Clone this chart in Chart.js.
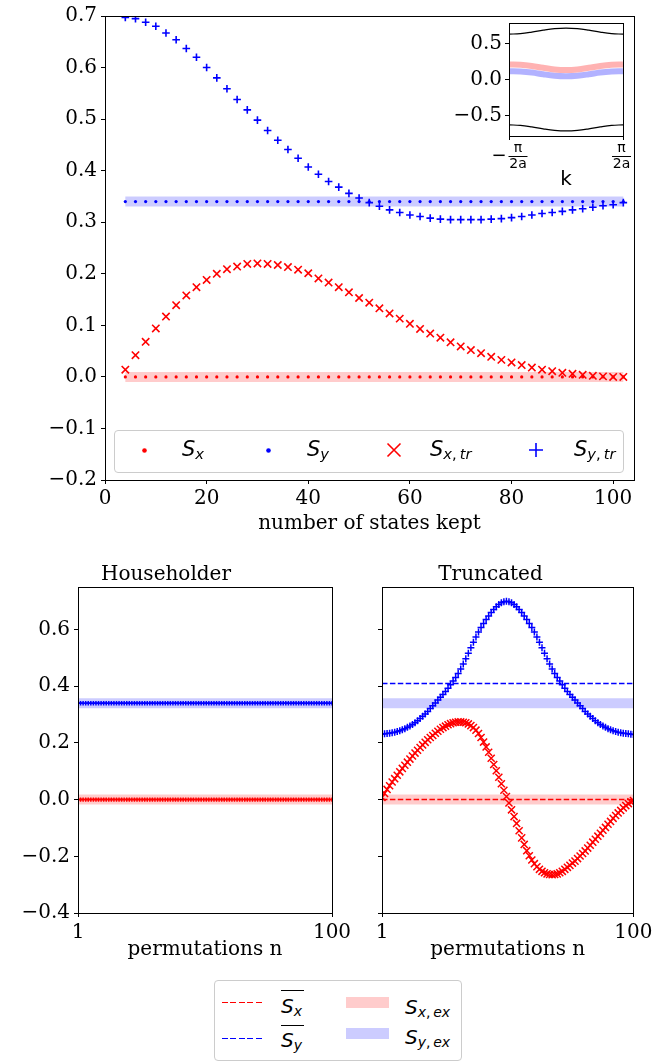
<!DOCTYPE html>
<html>
<head>
<meta charset="utf-8">
<script src="https://cdn.jsdelivr.net/npm/chart.js@4.4.1/dist/chart.umd.min.js"></script>
<style>
  body { margin: 0; width: 656px; height: 1064px; position: relative; background: #fff; overflow: hidden; }
  canvas { position: absolute; }
  .legend { position: absolute; background: rgba(255,255,255,0.8); border: 1px solid #ccc; border-radius: 4px; box-sizing: border-box; }
  .legend .txt { position: absolute; white-space: nowrap; font-family: 'DejaVu Sans', sans-serif; font-style: italic; line-height: 1; color: #000; }
  .legend sub { font-size: 0.7em; line-height: 0; vertical-align: -0.22em; }
  .legend .up { font-style: normal; }
  .legend svg, .legend .swatch, .legend .dash, .legend .bar { position: absolute; }
  .legend .bar { height: 1.3px; background: #000; }
</style>
</head>
<body>
<canvas id="mainChart" width="656" height="545" style="left:0;top:0"></canvas>
<canvas id="insetChart" width="210" height="200" style="left:440px;top:0"></canvas>
<canvas id="hhChart" width="360" height="424" style="left:0;top:540px"></canvas>
<canvas id="trChart" width="311" height="424" style="left:345px;top:540px"></canvas>

<div class="legend" style="left:114px;top:430px;width:510px;height:43px">
  <svg style="left:26px;top:16px" width="7" height="7"><circle cx="3.5" cy="3.5" r="2.3" fill="#ff0000"/></svg>
  <span class="txt" style="left:67px;top:8px;font-size:21px">S<sub>x</sub></span>
  <svg style="left:150px;top:16px" width="7" height="7"><circle cx="3.5" cy="3.5" r="2.3" fill="#0000ff"/></svg>
  <span class="txt" style="left:192px;top:8px;font-size:21px">S<sub>y</sub></span>
  <svg style="left:271px;top:11px" width="16" height="16"><path d="M1.5 1.5L14.5 14.5M14.5 1.5L1.5 14.5" stroke="#ff0000" stroke-width="1.6" fill="none"/></svg>
  <span class="txt" style="left:315px;top:8px;font-size:21px">S<sub>x<span class="up">,</span>&thinsp;tr</sub></span>
  <svg style="left:413px;top:11px" width="16" height="16"><path d="M8 1V15M1 8H15" stroke="#0000ff" stroke-width="1.6" fill="none"/></svg>
  <span class="txt" style="left:459px;top:8px;font-size:21px">S<sub>y<span class="up">,</span>&thinsp;tr</sub></span>
</div>

<div class="legend" style="left:214px;top:980px;width:248px;height:81px">
  <div class="dash" style="left:7px;top:20.5px;width:42px;height:1.5px;background:repeating-linear-gradient(to right,#ff0000 0 6px,transparent 6px 8.4px)"></div>
  <div class="bar" style="left:66px;top:9px;width:23px"></div>
  <span class="txt" style="left:66px;top:15px;font-size:20px">S<sub>x</sub></span>
  <div class="dash" style="left:7px;top:56.5px;width:42px;height:1.5px;background:repeating-linear-gradient(to right,#0000ff 0 6px,transparent 6px 8.4px)"></div>
  <div class="bar" style="left:66px;top:44px;width:23px"></div>
  <span class="txt" style="left:66px;top:49px;font-size:20px">S<sub>y</sub></span>
  <div class="swatch" style="left:131px;top:16px;width:43px;height:11px;background:rgba(255,0,0,0.2)"></div>
  <span class="txt" style="left:190px;top:15.5px;font-size:20px">S<sub>x<span class="up">,</span>&thinsp;ex</sub></span>
  <div class="swatch" style="left:131px;top:47px;width:43px;height:11px;background:rgba(0,0,255,0.2)"></div>
  <span class="txt" style="left:190px;top:46px;font-size:20px">S<sub>y<span class="up">,</span>&thinsp;ex</sub></span>
</div>

<script>
const SERIF = "'DejaVu Serif', serif";
const SANS = "'DejaVu Sans', sans-serif";

// exact spin expectation values
const sxExact = 0.0;
const syExact = 0.34;

// number of states kept (top panel)
const nKept = [4, 6, 8, 10, 12, 14, 16, 18, 20, 22, 24, 26, 28, 30, 32, 34, 36, 38, 40, 42,
  44, 46, 48, 50, 52, 54, 56, 58, 60, 62, 64, 66, 68, 70, 72, 74, 76, 78, 80, 82,
  84, 86, 88, 90, 92, 94, 96, 98, 100, 102];
const sxTrunc = [0.014, 0.042, 0.068, 0.094, 0.117, 0.139, 0.158, 0.174, 0.188, 0.200,
  0.209, 0.214, 0.219, 0.220, 0.219, 0.217, 0.213, 0.208, 0.201, 0.191,
  0.183, 0.174, 0.164, 0.153, 0.144, 0.133, 0.123, 0.113, 0.103, 0.093,
  0.084, 0.076, 0.067, 0.059, 0.052, 0.046, 0.039, 0.033, 0.028, 0.023,
  0.018, 0.014, 0.011, 0.008, 0.006, 0.004, 0.002, 0.001, 0.000, 0.000];
const syTrunc = [0.697, 0.695, 0.688, 0.680, 0.667, 0.654, 0.637, 0.620, 0.600, 0.580,
  0.559, 0.538, 0.518, 0.498, 0.478, 0.459, 0.441, 0.424, 0.407, 0.393,
  0.379, 0.368, 0.356, 0.347, 0.338, 0.331, 0.324, 0.319, 0.314, 0.311,
  0.308, 0.306, 0.305, 0.305, 0.305, 0.305, 0.306, 0.307, 0.309, 0.311,
  0.314, 0.317, 0.319, 0.321, 0.324, 0.326, 0.329, 0.332, 0.334, 0.338];
const topXTicks = [0, 20, 40, 60, 80, 100];
const topYTicks = [-0.2, -0.1, 0, 0.1, 0.2, 0.3, 0.4, 0.5, 0.6, 0.7];

// band structure inset, k in units of pi/2a
const kInset = [-1, -0.8, -0.6, -0.4, -0.2, 0, 0.2, 0.4, 0.6, 0.8, 1];
const bandUpper = [0.630, 0.638, 0.659, 0.686, 0.707, 0.715, 0.707, 0.686, 0.659, 0.638, 0.630];
const bandLower = [-0.630, -0.638, -0.659, -0.686, -0.707, -0.715, -0.707, -0.686, -0.659, -0.638, -0.630];
const bandSx = [0.210, 0.205, 0.188, 0.162, 0.140, 0.132, 0.140, 0.162, 0.188, 0.205, 0.210];
const bandSy = [0.115, 0.110, 0.096, 0.072, 0.053, 0.046, 0.053, 0.072, 0.096, 0.110, 0.115];
const kTicks = [-1, 1];
const insetYTicks = [-0.5, 0, 0.5];

// permutations (bottom panels)
const nPerm = Array.from({ length: 100 }, (_, i) => i + 1);
const sxPermTrunc = [
  0.008, 0.022, 0.036, 0.049, 0.062, 0.074, 0.086, 0.098, 0.110, 0.121,
  0.132, 0.143, 0.154, 0.164, 0.174, 0.184, 0.193, 0.202, 0.211, 0.219,
  0.226, 0.234, 0.241, 0.248, 0.254, 0.259, 0.264, 0.268, 0.271, 0.273,
  0.274, 0.274, 0.273, 0.271, 0.267, 0.261, 0.254, 0.245, 0.233, 0.219,
  0.203, 0.186, 0.167, 0.146, 0.124, 0.102, 0.079, 0.056, 0.033, 0.011,
  -0.012, -0.036, -0.060, -0.084, -0.110, -0.135, -0.158, -0.180, -0.198, -0.213,
  -0.226, -0.237, -0.246, -0.253, -0.258, -0.262, -0.264, -0.265, -0.264, -0.262,
  -0.258, -0.253, -0.246, -0.239, -0.232, -0.224, -0.217, -0.208, -0.199, -0.190,
  -0.181, -0.171, -0.161, -0.150, -0.140, -0.129, -0.119, -0.108, -0.098, -0.087,
  -0.077, -0.066, -0.056, -0.047, -0.038, -0.029, -0.021, -0.014, -0.008, -0.003];
const syPermTrunc = [
  0.231, 0.232, 0.233, 0.234, 0.236, 0.238, 0.240, 0.243, 0.246, 0.250,
  0.255, 0.260, 0.265, 0.271, 0.278, 0.286, 0.294, 0.302, 0.311, 0.321,
  0.331, 0.341, 0.351, 0.361, 0.371, 0.381, 0.393, 0.405, 0.418, 0.431,
  0.445, 0.461, 0.478, 0.497, 0.516, 0.536, 0.555, 0.574, 0.591, 0.607,
  0.621, 0.635, 0.648, 0.660, 0.671, 0.680, 0.688, 0.694, 0.698, 0.700,
  0.698, 0.694, 0.688, 0.680, 0.671, 0.660, 0.648, 0.635, 0.621, 0.607,
  0.591, 0.574, 0.555, 0.536, 0.516, 0.497, 0.478, 0.461, 0.445, 0.431,
  0.418, 0.405, 0.393, 0.381, 0.371, 0.361, 0.351, 0.341, 0.331, 0.321,
  0.311, 0.302, 0.294, 0.286, 0.278, 0.271, 0.265, 0.260, 0.255, 0.250,
  0.246, 0.243, 0.240, 0.238, 0.236, 0.234, 0.233, 0.232, 0.231, 0.230];
const sxMeanTrunc = 0.0;
const syMeanTrunc = 0.41;
const permXTicks = [1, 100];
const permYTicks = [-0.4, -0.2, 0, 0.2, 0.4, 0.6];

const RED = '#ff0000';
const BLUE = '#0000ff';
const RED_BAND = 'rgba(255,0,0,0.2)';
const BLUE_BAND = 'rgba(0,0,255,0.2)';

const pts = (xs, ys) => xs.map((x, i) => ({ x, y: ys[i] }));
const flat = (xs, y) => xs.map(x => ({ x, y }));
const hline = (x0, x1, y) => [{ x: x0, y }, { x: x1, y }];
const fmtDec = v => v.toFixed(1).replace('-', '\u2212');

// black box around the plotting area
const framePlugin = {
  id: 'frame',
  afterDraw(chart) {
    const { ctx, chartArea } = chart;
    const l = Math.round(chartArea.left) + 0.5;
    const t = Math.round(chartArea.top) + 0.5;
    const r = Math.round(chartArea.right) + 0.5;
    const b = Math.round(chartArea.bottom) + 0.5;
    ctx.save();
    ctx.strokeStyle = '#000';
    ctx.lineWidth = 1;
    ctx.strokeRect(l, t, r - l, b - t);
    ctx.restore();
  }
};

// -pi/2a and pi/2a labels under the inset
const fracTicks = {
  id: 'fracTicks',
  afterDraw(chart) {
    const { ctx } = chart;
    const xs = chart.scales.x;
    ctx.save();
    ctx.fillStyle = '#000';
    ctx.strokeStyle = '#000';
    ctx.textAlign = 'center';
    ctx.textBaseline = 'alphabetic';
    kTicks.forEach(v => {
      const neg = v < 0;
      const cx = xs.getPixelForValue(v) + (neg ? 9 : -1.5);
      ctx.font = `14px ${SANS}`;
      ctx.fillText('\u03c0', cx, 152);
      ctx.fillText('2a', cx, 168);
      ctx.lineWidth = 1;
      ctx.beginPath();
      ctx.moveTo(cx - 9.5, 156.5);
      ctx.lineTo(cx + 9.5, 156.5);
      ctx.stroke();
      if (neg) {
        ctx.font = `18px ${SANS}`;
        ctx.fillText('\u2212', cx - 19, 161);
      }
    });
    ctx.restore();
  }
};

function makeAxis({ min, max, tickValues, size, isX, title, titleFont, titlePad, labels = true, fmt, tickLength = 4, pad = 4 }) {
  return {
    type: 'linear',
    min, max,
    border: { display: false },
    grid: { drawOnChartArea: false, drawTicks: true, tickLength, color: '#000', lineWidth: 1 },
    ticks: {
      display: labels, color: '#000', padding: pad, autoSkip: false, maxRotation: 0,
      font: { family: SERIF, size: 20 }, callback: fmt
    },
    title: title
      ? { display: true, text: title, color: '#000', font: titleFont || { family: SERIF, size: 20 }, padding: { top: 0, bottom: titlePad } }
      : { display: false },
    afterBuildTicks: s => { s.ticks = tickValues.map(v => ({ value: v })); },
    afterFit: s => { if (isX) s.height = size; else s.width = size; }
  };
}

const baseOptions = (padding, scales, extraPlugins = {}) => ({
  responsive: false,
  animation: false,
  devicePixelRatio: 1,
  layout: { padding, autoPadding: false },
  plugins: Object.assign({ legend: { display: false }, tooltip: { enabled: false } }, extraPlugins),
  scales
});

const markers = (data, style, radius, color, order, width = 1.6) => ({
  data, showLine: false, order,
  pointStyle: style, pointRadius: radius,
  pointBorderColor: color, pointBackgroundColor: color,
  borderColor: color, backgroundColor: color,
  pointBorderWidth: width
});
const dots = (data, radius, color, order) => ({
  data, showLine: false, order,
  pointStyle: 'circle', pointRadius: radius,
  pointBorderWidth: 0, pointBackgroundColor: color, backgroundColor: color, borderColor: color
});
const band = (data, color, order, width = 10) => ({
  data, order, borderColor: color, borderWidth: width, pointRadius: 0, borderCapStyle: 'butt', fill: false
});
const dashed = (data, color, order) => ({
  data, order, borderColor: color, borderWidth: 1.5, borderDash: [5.5, 2.4], pointRadius: 0, fill: false
});

// main panel: expectation values versus number of states kept
new Chart(document.getElementById('mainChart'), {
  type: 'line',
  data: {
    datasets: [
      markers(pts(nKept, syTrunc), 'cross', 3.8, BLUE, 1),
      markers(pts(nKept, sxTrunc), 'crossRot', 5.2, RED, 2),
      dots(flat(nKept, syExact), 1.6, BLUE, 3),
      dots(flat(nKept, sxExact), 1.6, RED, 4),
      band(hline(nKept[0], nKept[nKept.length - 1], syExact), BLUE_BAND, 5),
      band(hline(nKept[0], nKept[nKept.length - 1], sxExact), RED_BAND, 6)
    ]
  },
  options: baseOptions({ left: 0, right: 22, top: 12, bottom: 0 }, {
    x: makeAxis({ min: 0, max: 104.1, tickValues: topXTicks, size: 65, isX: true,
      title: 'number of states kept', titlePad: 9.5, fmt: v => String(v), pad: 2.5 }),
    y: makeAxis({ min: -0.2, max: 0.7, tickValues: topYTicks, size: 105, fmt: fmtDec })
  }),
  plugins: [framePlugin]
});

// inset: bands across the zone
new Chart(document.getElementById('insetChart'), {
  type: 'line',
  data: {
    datasets: [
      { data: pts(kInset, bandUpper), borderColor: '#000', borderWidth: 1.2, pointRadius: 0, tension: 0.4, order: 1 },
      { data: pts(kInset, bandLower), borderColor: '#000', borderWidth: 1.2, pointRadius: 0, tension: 0.4, order: 2 },
      { data: pts(kInset, bandSx), borderColor: 'rgba(255,0,0,0.3)', borderWidth: 6, pointRadius: 0, tension: 0.4, order: 3 },
      { data: pts(kInset, bandSy), borderColor: 'rgba(0,0,255,0.3)', borderWidth: 6, pointRadius: 0, tension: 0.4, order: 4 }
    ]
  },
  options: baseOptions({ left: 0, right: 27, top: 23, bottom: 0 }, {
    x: makeAxis({ min: -1, max: 1, tickValues: kTicks, size: 64, isX: true, labels: false,
      title: 'k', titleFont: { family: SANS, size: 20 }, titlePad: 8 }),
    y: makeAxis({ min: -0.785, max: 0.785, tickValues: insetYTicks, size: 69, fmt: fmtDec, pad: 3 })
  }),
  plugins: [framePlugin, fracTicks]
});

const permX = () => makeAxis({ min: 1, max: 100, tickValues: permXTicks, size: 51, isX: true,
  title: 'permutations n', titlePad: 2.5, fmt: v => String(v), pad: 3.5 });
const panelTitle = text => ({
  title: { display: true, text, color: '#000', font: { family: SERIF, size: 20, weight: 'normal' }, padding: { top: 23, bottom: 0 } }
});

// Householder: every permutation gives the exact result
new Chart(document.getElementById('hhChart'), {
  type: 'line',
  data: {
    datasets: [
      markers(flat(nPerm, syExact), 'cross', 2.2, BLUE, 1, 1.5),
      markers(flat(nPerm, sxExact), 'cross', 2.2, RED, 2, 1.5),
      dashed(hline(1, 100, syExact), BLUE, 3),
      dashed(hline(1, 100, sxExact), RED, 4),
      band(hline(1, 100, syExact), BLUE_BAND, 5),
      band(hline(1, 100, sxExact), RED_BAND, 6)
    ]
  },
  options: baseOptions({ left: 0, right: 28, top: 0, bottom: 0 }, {
    x: permX(),
    y: makeAxis({ min: -0.4, max: 0.75, tickValues: permYTicks, size: 78, fmt: fmtDec })
  }, panelTitle('Householder')),
  plugins: [framePlugin]
});

// Truncated: result depends on the permutation
new Chart(document.getElementById('trChart'), {
  type: 'line',
  data: {
    datasets: [
      markers(pts(nPerm, syPermTrunc), 'cross', 3.5, BLUE, 1, 1.5),
      markers(pts(nPerm, sxPermTrunc), 'crossRot', 5, RED, 2, 1.5),
      dashed(hline(1, 100, syMeanTrunc), BLUE, 3),
      dashed(hline(1, 100, sxMeanTrunc), RED, 4),
      band(hline(1, 100, syExact), BLUE_BAND, 5),
      band(hline(1, 100, sxExact), RED_BAND, 6)
    ]
  },
  options: baseOptions({ left: 0, right: 20, top: 0, bottom: 0 }, {
    x: permX(),
    y: makeAxis({ min: -0.4, max: 0.75, tickValues: permYTicks, size: 37, labels: false })
  }, panelTitle('Truncated')),
  plugins: [framePlugin]
});
</script>
</body>
</html>
